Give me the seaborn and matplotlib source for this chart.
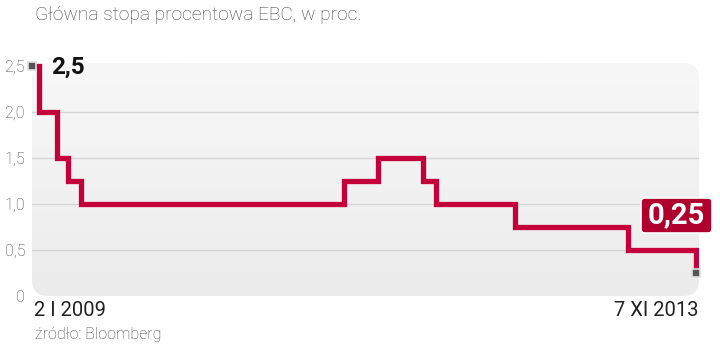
import matplotlib
matplotlib.use("Agg")
import matplotlib.pyplot as plt
import seaborn as sns
import pandas as pd
import numpy as np
from matplotlib.patches import FancyBboxPatch
from matplotlib.transforms import IdentityTransform

# ---- data ----
change_dates = ["2009-01-02", "2009-01-21", "2009-03-11", "2009-04-08", "2009-05-13",
                "2011-04-13", "2011-07-13", "2011-11-09", "2011-12-14", "2012-07-11",
                "2013-05-08", "2013-11-07", "2013-11-07"]
rates = [2.5, 2.0, 1.5, 1.25, 1.0, 1.25, 1.5, 1.25, 1.0, 0.75, 0.5, 0.5, 0.25]
ytick_values = [0, 0.5, 1.0, 1.5, 2.0, 2.5]
ytick_labels = ["0", "0,5", "1,0", "1,5", "2,0", "2,5"]
title = "Główna stopa procentowa EBC, w proc."
start_label = "2 I 2009"
end_label = "7 XI 2013"
first_label = "2,5"
last_label = "0,25"
source = "źródło: Bloomberg"

df = pd.DataFrame({"date": pd.to_datetime(change_dates), "rate": rates})

RED = "#c4003c"
W, H = 720, 346
fig = plt.figure(figsize=(W / 100, H / 100), dpi=100)
fig.patch.set_facecolor("white")

# axes geometry in pixels
ax_l, ax_r = 32, 699
y0_px, ytop_px = 296, 63
px_per_unit = 92.0
ax = fig.add_axes([ax_l / W, (H - y0_px) / H, (ax_r - ax_l) / W, (y0_px - ytop_px) / H])
ax.set_facecolor("none")

# rounded gradient panel
panel = FancyBboxPatch((ax_l, H - y0_px), ax_r - ax_l, y0_px - ytop_px,
                       boxstyle="round,pad=0,rounding_size=16",
                       transform=IdentityTransform(), facecolor="none",
                       edgecolor="none")
fig.add_artist(panel)
grad = np.linspace(0, 1, 100).reshape(-1, 1)
cmap = matplotlib.colors.LinearSegmentedColormap.from_list("g", ["#f7f7f7", "#ececec"])
img = ax.imshow(grad, extent=[0, 1, 0, 1], transform=ax.transAxes, cmap=cmap,
                aspect="auto", zorder=0, origin="upper")
img.set_clip_path(panel)

# x mapping: 2 Jan 2009 at px 31.5, 7 Nov 2013 at px 696.5
d0 = pd.Timestamp("2009-01-02")
d1 = pd.Timestamp("2013-11-07")
x0_px, x1_px = 31.5, 696.5
days = (d1 - d0).days
ppd = (x1_px - x0_px) / days
xmin = d0 - pd.Timedelta(days=(x0_px - ax_l) / ppd)
xmax = d1 + pd.Timedelta(days=(ax_r - x1_px) / ppd)
ax.set_xlim(xmin, xmax)
ax.set_ylim(0, (y0_px - ytop_px) / px_per_unit)

# grid lines
for v in ytick_values[1:-1]:
    ax.axhline(v, color="#d6d6d6", lw=1.0, zorder=1)

sns.lineplot(data=df, x="date", y="rate", ax=ax, color=RED, lw=3.8,
             estimator=None, sort=False,
             drawstyle="steps-post", zorder=3, solid_joinstyle="miter",
             solid_capstyle="butt")

# end markers
ax.plot([df["date"].iloc[0], df["date"].iloc[-1]], [rates[0], rates[-1]],
        ls="none", marker="s", ms=5.5, mfc="#555555", mec="#e0e0e0", mew=1.2,
        zorder=4, clip_on=False)

for s in ax.spines.values():
    s.set_visible(False)
ax.set_xticks([])
ax.set_yticks([])
ax.set_xlabel("")
ax.set_ylabel("")

FONT = "Roboto"
# y tick labels
for v, lab in zip(ytick_values, ytick_labels):
    ypx = y0_px - v * px_per_unit
    fig.text(25 / W, (H - ypx - 1) / H, lab, ha="right", va="center", fontsize=11.5,
             color="#444444", family=FONT, fontweight="light")

fig.text(35 / W, (H - 15) / H, title, ha="left", va="center", fontsize=13.8,
         color="#444444", family=FONT, fontweight="light")
fig.text(34 / W, (H - 311) / H, start_label, ha="left", va="center", fontsize=14.5,
         color="#222222", family=FONT)
fig.text(698 / W, (H - 311) / H, end_label, ha="right", va="center", fontsize=14.5,
         color="#222222", family=FONT)
fig.text(35 / W, (H - 334) / H, source, ha="left", va="center", fontsize=11.5,
         color="#444444", family=FONT, fontweight="light")

# value labels
fig.text(51 / W, (H - 67) / H, first_label, ha="left", va="center", fontsize=17.5,
         color="#111111", family=FONT, fontweight="bold")

box = FancyBboxPatch((641, H - 233), 71, 35,
                     boxstyle="round,pad=0,rounding_size=4",
                     transform=IdentityTransform(), facecolor="#b0002e",
                     edgecolor="white", lw=1.2, zorder=5)
fig.add_artist(box)
fig.text(676.5 / W, (H - 215.5) / H, last_label, ha="center", va="center", fontsize=21,
         color="white", family=FONT, fontweight="bold", zorder=6)

fig.savefig("out.png", dpi=100, facecolor="white")
